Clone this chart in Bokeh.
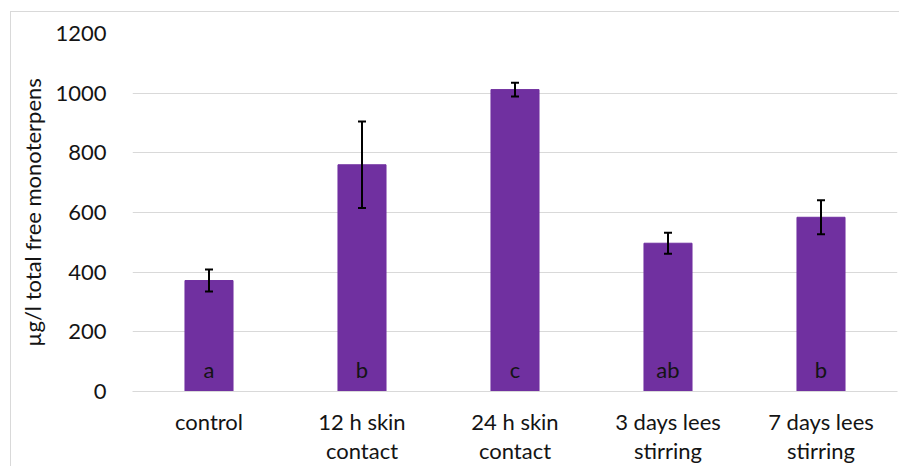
from bokeh.plotting import figure
from bokeh.models import ColumnDataSource, Range1d, FactorRange, FixedTicker, Whisker, TeeHead
from bokeh.core.properties import value
from bokeh.embed import file_html
from bokeh.resources import INLINE

categories = ["control", "12 h skin\ncontact", "24 h skin\ncontact", "3 days lees\nstirring", "7 days lees\nstirring"]
means = [372, 760, 1012, 497, 584]
errors = [37, 145, 23, 35, 57]
letters = ["a", "b", "c", "ab", "b"]
y_ticks = [0, 200, 400, 600, 800, 1000, 1200]

FONT = "Lato"
FS = "22px"
TXT = "#141414"

src = ColumnDataSource(dict(
    cat=categories, mean=means,
    upper=[m + e for m, e in zip(means, errors)],
    lower=[m - e for m, e in zip(means, errors)],
    letter=letters,
))

p = figure(x_range=FactorRange(factors=categories, range_padding=0),
           y_range=Range1d(0, 1200),
           frame_width=765, frame_height=358, output_backend="svg", toolbar_location=None,
           min_border_left=121, min_border_right=2, min_border_top=21, min_border_bottom=10)
p.styles = {"border-left": "1px solid #d9d9d9", "border-top": "1px solid #d9d9d9",
            "margin-left": "10px", "margin-top": "11px"}
p.outline_line_color = None

p.vbar(x="cat", top="mean", width=0.314, source=src, fill_color="#7030A0", line_color="#7030A0")
p.add_layout(Whisker(base="cat", upper="upper", lower="lower", source=src, level="overlay",
                     line_color="black", line_width=2,
                     upper_head=TeeHead(size=8, line_color="black", line_width=2),
                     lower_head=TeeHead(size=8, line_color="black", line_width=2)))
p.text(x="cat", y=0, text="letter", source=src, text_align="center", text_baseline="alphabetic",
       y_offset=-22, text_font=value(FONT), text_font_size=FS, text_color=TXT)

p.xgrid.grid_line_color = None
p.ygrid.grid_line_color = "#d9d9d9"
p.ygrid.grid_line_width = 1

p.yaxis.ticker = FixedTicker(ticks=y_ticks)
p.yaxis.axis_line_color = None
p.yaxis.major_tick_line_color = None
p.yaxis.minor_tick_line_color = None
p.yaxis.major_label_standoff = 20
p.yaxis.axis_label = "µg/l total free monoterpens"
p.yaxis.axis_label_standoff = 6
p.yaxis.axis_label_text_font_style = "normal"

p.xaxis.axis_line_color = "#d9d9d9"
p.xaxis.major_tick_line_color = None
p.xaxis.minor_tick_line_color = None
p.xaxis.major_label_standoff = 10
p.xaxis.major_label_text_line_height = 1.1

for ax in (p.xaxis, p.yaxis):
    ax.major_label_text_font = FONT
    ax.major_label_text_font_size = FS
    ax.major_label_text_color = TXT
    ax.axis_label_text_font = FONT
    ax.axis_label_text_font_size = FS
    ax.axis_label_text_color = TXT

open("out.html", "w").write(file_html(p, INLINE))
